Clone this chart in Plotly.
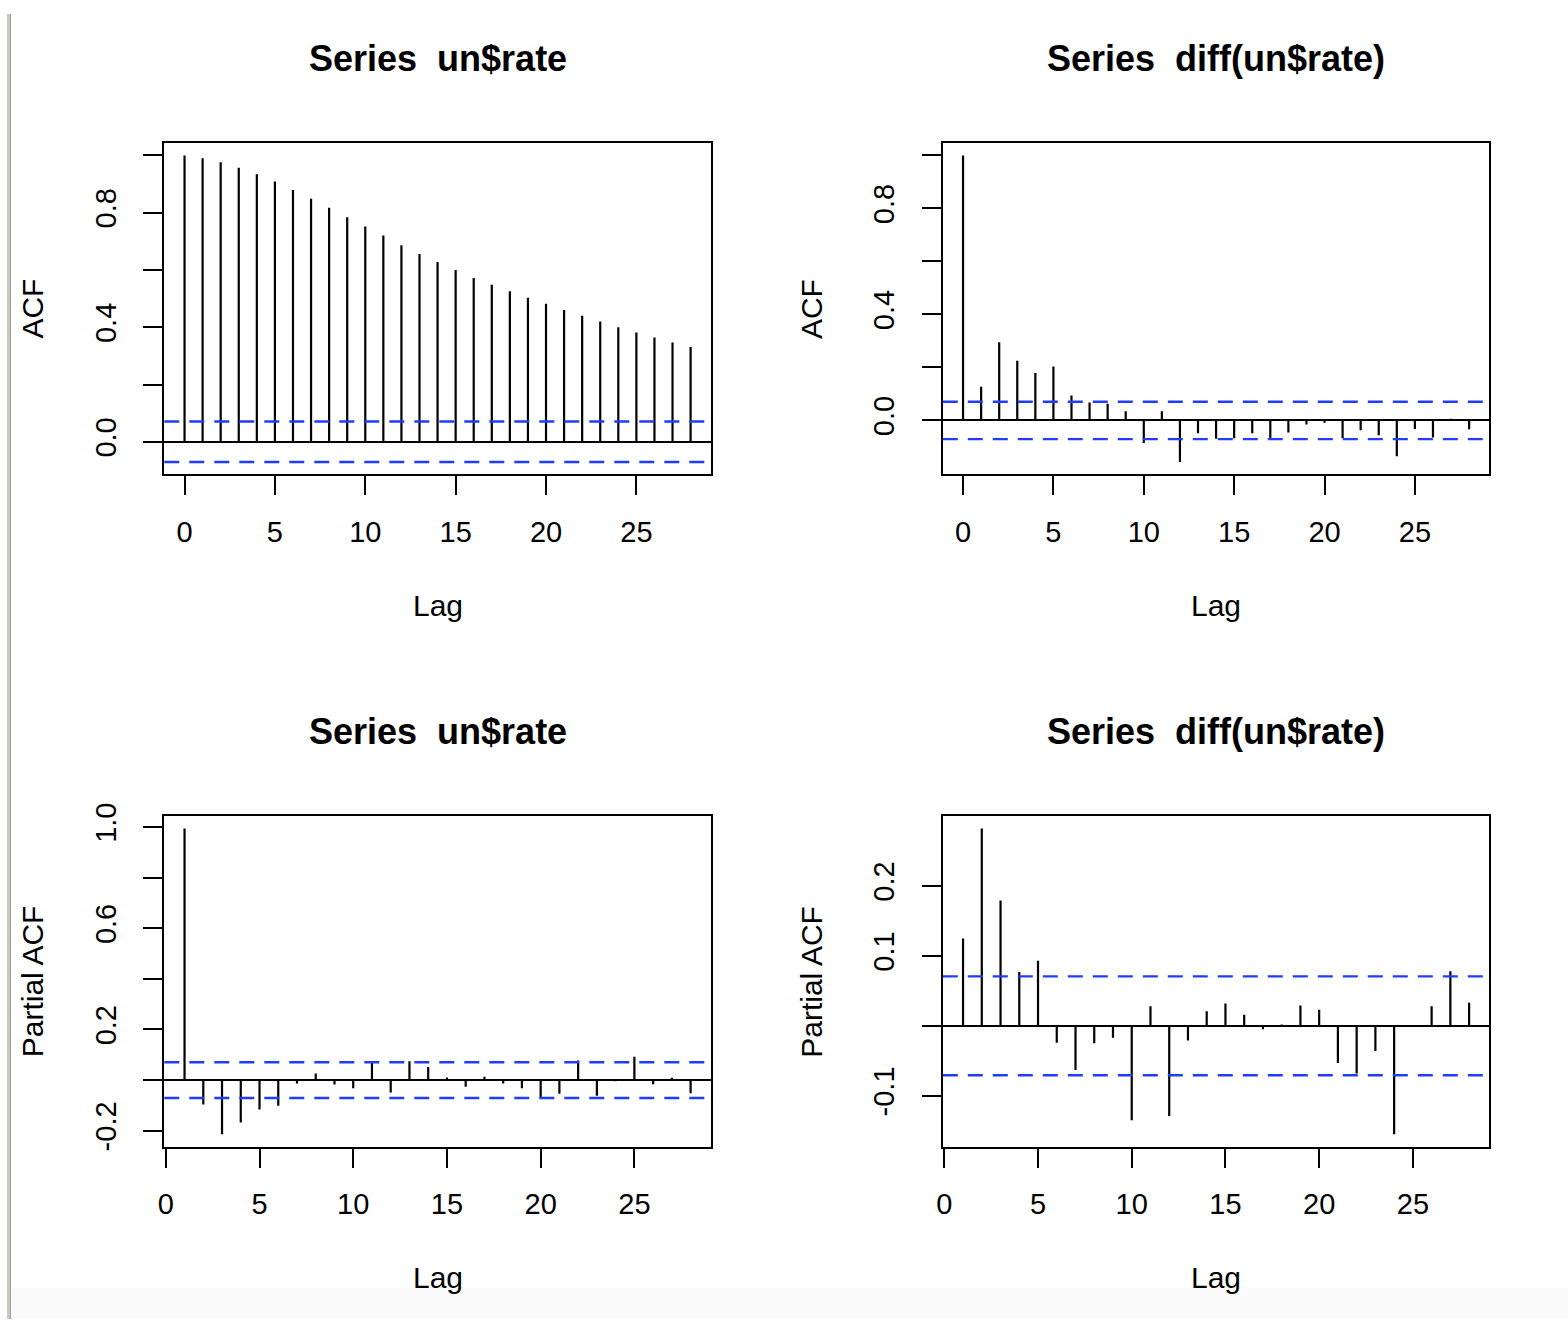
import plotly.graph_objects as go

# ---------------- data ----------------
acf_lags = list(range(0, 29))
acf_rate = [1.000, 0.990, 0.976, 0.957, 0.934, 0.909, 0.879, 0.849, 0.817, 0.784,
            0.752, 0.720, 0.686, 0.656, 0.628, 0.600, 0.572, 0.548, 0.526, 0.503,
            0.482, 0.460, 0.440, 0.420, 0.400, 0.382, 0.364, 0.347, 0.331]
acf_diff = [1.000, 0.127, 0.295, 0.225, 0.179, 0.203, 0.094, 0.068, 0.063, 0.035,
            -0.085, 0.035, -0.157, -0.048, -0.069, -0.067, -0.048, -0.069, -0.046, -0.015,
            -0.009, -0.067, -0.037, -0.056, -0.135, -0.032, -0.064, 0.006, -0.033]

pacf_lags = list(range(1, 29))
pacf_rate = [0.994, -0.096, -0.214, -0.167, -0.116, -0.101, -0.013, 0.026, -0.017, -0.032,
             0.070, -0.049, 0.075, 0.052, 0.010, -0.026, 0.013, -0.013, -0.032, -0.072,
             -0.054, 0.078, -0.062, -0.004, 0.092, -0.016, 0.009, -0.052]
pacf_diff = [0.125, 0.282, 0.179, 0.077, 0.093, -0.024, -0.063, -0.025, -0.017, -0.135,
             0.028, -0.129, -0.021, 0.021, 0.032, 0.016, -0.005, 0.002, 0.029, 0.023,
             -0.053, -0.068, -0.036, -0.155, 0.001, 0.028, 0.078, 0.033]

conf_limit = 0.0707

titles = ["Series  un$rate", "Series  diff(un$rate)", "Series  un$rate", "Series  diff(un$rate)"]
ylabels = ["ACF", "ACF", "Partial ACF", "Partial ACF"]
xlabel = "Lag"
x_tick_vals = [0, 5, 10, 15, 20, 25]
y_ticks = [
    ([0.0, 0.2, 0.4, 0.6, 0.8, 1.0], ["0.0", "", "0.4", "", "0.8", ""]),
    ([0.0, 0.2, 0.4, 0.6, 0.8, 1.0], ["0.0", "", "0.4", "", "0.8", ""]),
    ([-0.2, 0.0, 0.2, 0.4, 0.6, 0.8, 1.0], ["-0.2", "", "0.2", "", "0.6", "", "1.0"]),
    ([-0.1, 0.0, 0.1, 0.2], ["-0.1", "", "0.1", "0.2"]),
]

panels = [(acf_lags, acf_rate), (acf_lags, acf_diff), (pacf_lags, pacf_rate), (pacf_lags, pacf_diff)]

# ---------------- layout geometry (pixels) ----------------
W, H = 1568, 1324
boxes = [(158, 707, 131, 467), (940, 1489, 131, 467),
         (158, 707, 814, 1149), (940, 1489, 814, 1149)]
FONT = "Liberation Sans, Arial, Helvetica, sans-serif"
BLUE = "#1f3cff"

fig = go.Figure()
layout = dict(width=W, height=H, margin=dict(l=0, r=0, t=0, b=0),
              paper_bgcolor="white", plot_bgcolor="white", showlegend=False,
              font=dict(family=FONT, color="black"))
shapes = []
annotations = []


def ext(lo, hi):
    d = (hi - lo) * 0.04
    return [lo - d, hi + d]


for i, ((lags, vals), (x0, x1, y0, y1)) in enumerate(zip(panels, boxes)):
    n = i + 1
    xa = "xaxis" if n == 1 else f"xaxis{n}"
    ya = "yaxis" if n == 1 else f"yaxis{n}"
    xr = "x" if n == 1 else f"x{n}"
    yr = "y" if n == 1 else f"y{n}"

    xs, ys = [], []
    for l, v in zip(lags, vals):
        xs += [l, l, None]
        ys += [0, v, None]
    fig.add_trace(go.Scatter(x=xs, y=ys, mode="lines", xaxis=xr, yaxis=yr,
                             line=dict(color="black", width=2.2), hoverinfo="skip"))

    xrange = ext(min(lags), max(lags))
    yrange = ext(min(min(vals), -conf_limit), max(max(vals), conf_limit))
    tv, tt = y_ticks[i]

    axis_common = dict(showgrid=False, ticks="outside", ticklen=19, tickwidth=2,
                       tickcolor="black", showline=True, mirror=True, linewidth=2,
                       linecolor="black", tickfont=dict(size=29, family=FONT, color="black"))
    layout[xa] = dict(domain=[x0 / W, x1 / W], range=xrange, anchor=yr,
                      tickvals=x_tick_vals, ticktext=[str(v) for v in x_tick_vals],
                      zeroline=False, ticklabelstandoff=12, **axis_common)
    layout[ya] = dict(domain=[1 - y1 / H, 1 - y0 / H], range=yrange, anchor=xr,
                      tickvals=tv, ticktext=tt, tickangle=-90,
                      zeroline=True, zerolinecolor="black", zerolinewidth=2,
                      ticklabelstandoff=16, **axis_common)

    for c in (conf_limit, -conf_limit):
        shapes.append(dict(type="line", xref=f"{xr} domain", yref=yr, x0=0, x1=1, y0=c, y1=c,
                           line=dict(color=BLUE, width=2.4, dash="15px,10px"), layer="above"))

    cx = (x0 + x1) / 2 / W
    cy = (y0 + y1) / 2
    annotations.append(dict(text=f"<b>{titles[i]}</b>", xref="paper", yref="paper",
                            x=cx, y=1 - (y0 - 86) / H, xanchor="center", yanchor="middle",
                            showarrow=False, font=dict(size=36, family=FONT, color="black")))
    annotations.append(dict(text=xlabel, xref="paper", yref="paper",
                            x=cx, y=1 - (y1 + 133) / H, xanchor="center", yanchor="middle",
                            showarrow=False, font=dict(size=30, family=FONT, color="black")))
    annotations.append(dict(text=ylabels[i], xref="paper", yref="paper",
                            x=(x0 - 132) / W, y=1 - cy / H, xanchor="center", yanchor="middle",
                            textangle=-90, showarrow=False,
                            font=dict(size=30, family=FONT, color="black")))

# window frame remnants
shapes.append(dict(type="rect", xref="paper", yref="paper", x0=0, x1=3 / W, y0=0, y1=1,
                   fillcolor="#c9c9c3", line=dict(width=0), layer="above"))
shapes.append(dict(type="rect", xref="paper", yref="paper", x0=3 / W, x1=4 / W, y0=0, y1=1,
                   fillcolor="#9e9e9a", line=dict(width=0), layer="above"))
shapes.append(dict(type="rect", xref="paper", yref="paper", x0=4 / W, x1=1, y0=0, y1=32 / H,
                   fillcolor="#fafafa", line=dict(width=0), layer="below"))

layout["shapes"] = shapes
layout["annotations"] = annotations
fig.update_layout(**layout)
fig.write_html("out.html")
